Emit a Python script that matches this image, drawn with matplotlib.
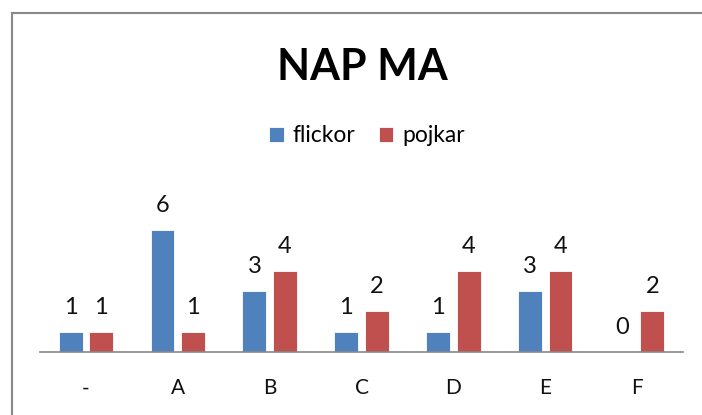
import numpy as np
import matplotlib.pyplot as plt
from matplotlib.lines import Line2D

categories = ['-', 'A', 'B', 'C', 'D', 'E', 'F']
flickor = [1, 6, 3, 1, 1, 3, 0]
pojkar = [1, 1, 4, 2, 4, 4, 2]

blue = '#4F81BD'
red = '#C0504D'

plt.rcParams['font.family'] = ['Lato', 'DejaVu Sans']

W, H = 702, 415
fig = plt.figure(figsize=(W / 100, H / 100), dpi=100)

# outer chart frame (only left and top edges are visible in the crop)
fx, fy = 11.5 / W, 1 - 13.5 / H
fig.add_artist(Line2D([fx, fx], [0, fy], transform=fig.transFigure,
                      color='#888888', linewidth=1.5))
fig.add_artist(Line2D([fx, 1.01], [fy, fy], transform=fig.transFigure,
                      color='#888888', linewidth=1.5))

ax = fig.add_axes([40 / W, 1 - 352 / H, 643 / W, 142 / H])

x = np.arange(len(categories))
w = 0.26
off = 0.166
b1 = ax.bar(x - off, flickor, w, color=blue, edgecolor='white', linewidth=0.6, label='flickor')
b2 = ax.bar(x + off, pojkar, w, color=red, edgecolor='white', linewidth=0.6, label='pojkar')

for bars, vals in [(b1, flickor), (b2, pojkar)]:
    for rect, v in zip(bars, vals):
        ax.annotate(str(v), (rect.get_x() + rect.get_width() / 2, v),
                    xytext=(0, 13), textcoords='offset points',
                    ha='center', va='baseline', fontsize=17, color='#111111')

ax.set_xlim(-0.5, len(categories) - 0.5)
ax.set_ylim(0, 7)
ax.set_xticks(x)
ax.set_xticklabels(categories, fontsize=15, color='#111111')
ax.tick_params(axis='x', length=0, pad=19)
ax.set_yticks([])
for s in ['left', 'right', 'top']:
    ax.spines[s].set_visible(False)
ax.spines['bottom'].set_color('#888888')
ax.spines['bottom'].set_linewidth(1.2)

fig.text(362 / W, 1 - 80 / H, 'NAP MA', ha='center', va='baseline',
         fontsize=31, fontweight='bold', color='black')

fig.legend(handles=[b1, b2], labels=['flickor', 'pojkar'], loc='center',
           bbox_to_anchor=(367 / W, 1 - 136 / H), ncol=2, frameon=False,
           fontsize=16.5, handlelength=0.65, handleheight=0.65,
           handletextpad=0.4, columnspacing=1.0, borderpad=0)

fig.savefig('out.png', dpi=100)
